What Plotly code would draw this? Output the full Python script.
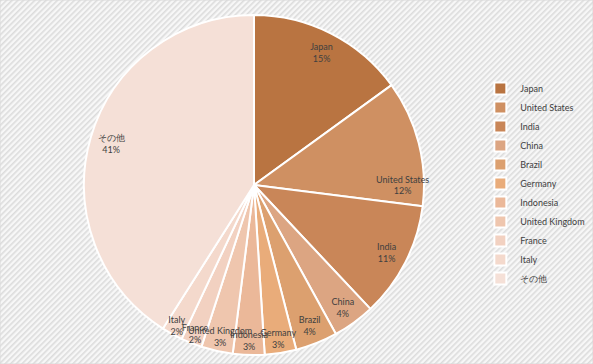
import base64
import plotly.graph_objects as go

countries = ["Japan", "United States", "India", "China", "Brazil", "Germany",
             "Indonesia", "United Kingdom", "France", "Italy", "その他"]
shares = [15, 12, 11, 4, 4, 3, 3, 3, 2, 2, 41]
colors = ["#b97441", "#cf9062", "#c98658", "#dca582", "#dca06f", "#e9ac7a",
          "#ebb899", "#efc6ae", "#f2d1c1", "#f4d9cc", "#f5e0d7"]

W, H = 593, 364
svg = (
    f'<svg xmlns="http://www.w3.org/2000/svg" width="{W}" height="{H}" '
    f'viewBox="0 0 {W} {H}" preserveAspectRatio="none">'
    '<defs><pattern id="p" width="4" height="4" patternUnits="userSpaceOnUse" '
    'patternTransform="rotate(-45)">'
    '<rect width="4" height="4" fill="#f7f7f7"/>'
    '<rect width="4" height="1.6" fill="#dcdcdc"/></pattern></defs>'
    f'<rect width="{W}" height="{H}" fill="url(#p)"/></svg>'
)
bg_src = "data:image/svg+xml;base64," + base64.b64encode(svg.encode()).decode()

dom = dict(x=[(254 - 170) / W, (254 + 170) / W],
           y=[(179 - 170) / H, (179 + 170) / H])

fig = go.Figure()
fig.add_trace(go.Pie(
    labels=countries,
    values=shares,
    sort=False,
    direction="clockwise",
    rotation=0,
    marker=dict(colors=colors, line=dict(color="white", width=2)),
    textinfo="none",
    hoverinfo="label+percent",
    domain=dom,
))
# transparent ring overlay to place labels near the rim
fig.add_trace(go.Pie(
    labels=countries,
    values=shares,
    sort=False,
    direction="clockwise",
    rotation=0,
    hole=0.75,
    showlegend=False,
    marker=dict(colors=["rgba(0,0,0,0)"] * len(shares), line=dict(width=0)),
    texttemplate="%{label}<br>%{percent:.0%}",
    textposition="inside",
    insidetextorientation="horizontal",
    textfont=dict(family="Lato, Open Sans, sans-serif", size=9, color="#404040"),
    hoverinfo="skip",
    domain=dom,
))

fig.update_layout(
    width=W, height=H,
    margin=dict(l=0, r=0, t=0, b=0, autoexpand=False),
    paper_bgcolor="#ededed",
    uniformtext=dict(minsize=9, mode="show"),
    legend=dict(
        x=0.81, y=0.797, xanchor="left", yanchor="top",
        font=dict(family="Lato, Open Sans, sans-serif", size=9, color="#404040"),
        bgcolor="rgba(0,0,0,0)",
        itemwidth=30,
        maxheight=400,
    ),
    images=[dict(source=bg_src, xref="paper", yref="paper", x=0, y=1,
                 sizex=1, sizey=1, xanchor="left", yanchor="top",
                 sizing="stretch", layer="below")],
    shapes=[dict(type="rect", xref="paper", yref="paper", x0=0, y0=0, x1=1, y1=1,
                 line=dict(color="#d9d9d9", width=1))],
)

fig.write_html(
    "out.html",
    config={"displayModeBar": False},
    post_script=("document.body.style.margin='0';"
                 "document.body.style.overflow='hidden';"
                 "document.documentElement.style.overflow='hidden';"),
)
